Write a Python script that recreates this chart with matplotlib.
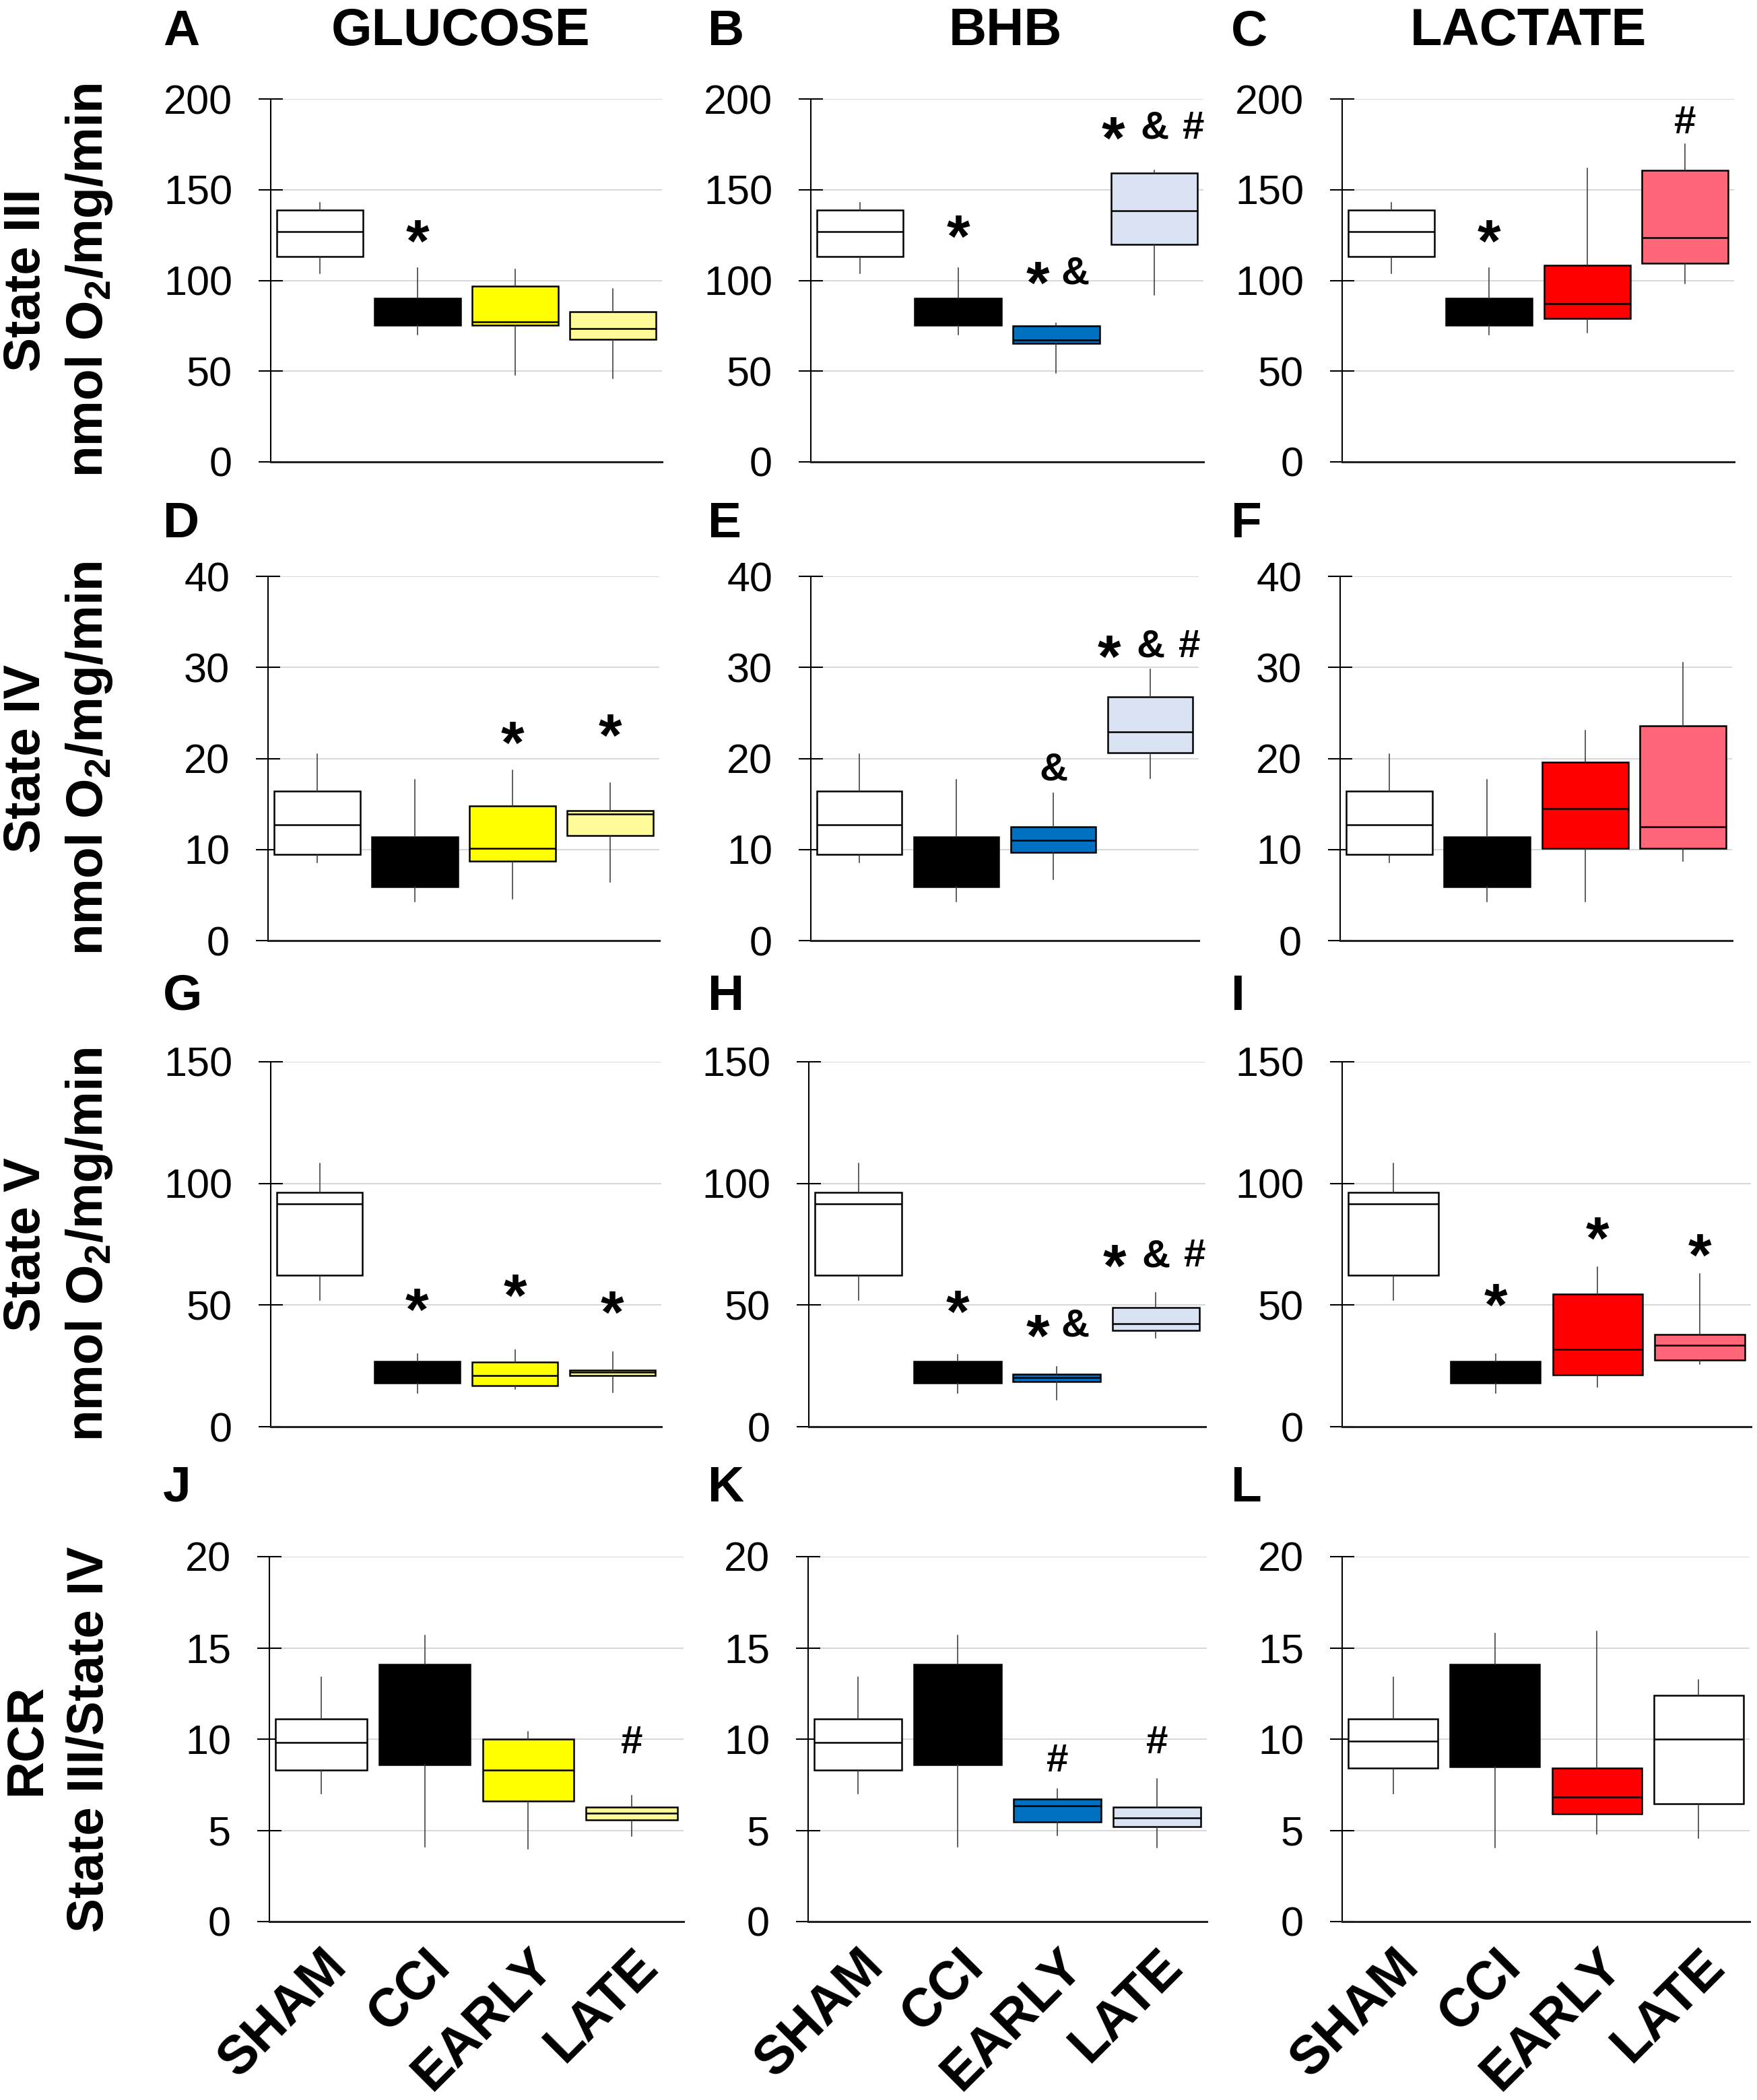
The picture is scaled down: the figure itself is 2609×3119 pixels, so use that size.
import matplotlib
matplotlib.use('Agg')
import matplotlib.pyplot as plt

plt.rcParams['font.family'] = ['Liberation Sans', 'DejaVu Sans']
plt.rcParams['mathtext.fontset'] = 'custom'
plt.rcParams['mathtext.rm'] = 'Liberation Sans:bold'
plt.rcParams['mathtext.bf'] = 'Liberation Sans:bold'

# ---------------- data ----------------
groups = ['SHAM', 'CCI', 'EARLY', 'LATE']
substrates = ['GLUCOSE', 'BHB', 'LACTATE']
panel_letters = [['A', 'B', 'C'], ['D', 'E', 'F'], ['G', 'H', 'I'], ['J', 'K', 'L']]
row_label_top = ['State III', 'State IV', 'State V', 'RCR']
row_label_bottom = [r'nmol O$_2$/mg/min', r'nmol O$_2$/mg/min', r'nmol O$_2$/mg/min',
                    'State III/State IV']
row_ymax = [200, 40, 150, 20]
row_ticks = [[0, 50, 100, 150, 200], [0, 10, 20, 30, 40], [0, 50, 100, 150], [0, 5, 10, 15, 20]]

# box stats per group: (whisker low, Q1, median, Q3, whisker high)
state3_glucose = [[104, 113, 127, 138.7, 143], [70, 75.4, 80, 90, 106.7],
                  [48, 75.4, 77, 96.7, 106], [46, 67.6, 73.5, 82.6, 95.3]]
state3_bhb = [[104, 113, 127, 138.7, 143], [70, 75.4, 80, 90, 106.7],
              [49, 65.2, 67, 74.9, 76.6], [91.9, 120, 138.4, 159.1, 160.5]]
state3_lactate = [[104, 113, 127, 138.7, 143], [70, 75.4, 80, 90, 106.7],
                  [71.1, 79.1, 87.3, 108.4, 161.7], [98.2, 109.3, 123.4, 160.7, 175.3]]

state4_glucose = [[8.6, 9.5, 12.7, 16.4, 20.5], [4.3, 5.9, 8, 11.4, 17.7],
                  [4.6, 8.7, 10.1, 14.8, 18.7], [6.4, 11.5, 13.9, 14.3, 17.3]]
state4_bhb = [[8.6, 9.5, 12.7, 16.4, 20.5], [4.3, 5.9, 8, 11.4, 17.7],
              [6.7, 9.7, 11.0, 12.5, 16.2], [17.8, 20.6, 22.9, 26.8, 29.8]]
state4_lactate = [[8.6, 9.5, 12.7, 16.4, 20.5], [4.3, 5.9, 8, 11.4, 17.7],
                  [4.3, 10.1, 14.5, 19.6, 23.1], [8.75, 10.1, 12.5, 23.6, 30.5]]

state5_glucose = [[51.9, 62.3, 91.7, 96.2, 108.1], [13.7, 17.9, 22, 26.8, 30.0],
                  [15.6, 16.9, 21.0, 26.7, 31.6], [14, 21.1, 22.3, 23.3, 30.7]]
state5_bhb = [[51.9, 62.3, 91.7, 96.2, 108.1], [13.7, 17.9, 22, 26.8, 29.6],
              [11.2, 18.6, 20.1, 21.6, 24.6], [36.4, 39.6, 42.4, 49.1, 55.1]]
state5_lactate = [[51.9, 62.3, 91.7, 96.2, 108.1], [13.7, 17.9, 22, 26.8, 29.9],
                  [16.3, 21.4, 31.8, 54.5, 65.5], [25.8, 27.4, 33.5, 37.9, 62.7]]

rcr_glucose = [[7.0, 8.3, 9.8, 11.1, 13.4], [4.1, 8.6, 11, 14.1, 15.7],
               [4.0, 6.6, 8.3, 10.0, 10.4], [4.67, 5.57, 5.93, 6.27, 6.9]]
rcr_bhb = [[7.0, 8.3, 9.8, 11.1, 13.4], [4.1, 8.6, 11, 14.1, 15.7],
           [4.74, 5.46, 6.36, 6.72, 7.26], [4.06, 5.19, 5.70, 6.27, 7.82]]
rcr_lactate = [[7.0, 8.4, 9.9, 11.1, 13.4], [4.07, 8.5, 11, 14.1, 15.8],
               [4.8, 5.9, 6.84, 8.4, 15.9], [4.56, 6.47, 10.0, 12.4, 13.24]]

panel_data = [[state3_glucose, state3_bhb, state3_lactate],
              [state4_glucose, state4_bhb, state4_lactate],
              [state5_glucose, state5_bhb, state5_lactate],
              [rcr_glucose, rcr_bhb, rcr_lactate]]

colors_glucose = ['#FFFFFF', '#000000', '#FFFF00', '#FFFB99']
colors_bhb = ['#FFFFFF', '#000000', '#0070C0', '#DAE3F3']
colors_lactate = ['#FFFFFF', '#000000', '#FF0000', '#FF6677']
colors_rcr_lactate = ['#FFFFFF', '#000000', '#FF0000', '#FFFFFF']

# significance marks: (row, col, group index, symbols, y of glyph centre)
annotations = [
    (0, 0, 1, '*', 129),
    (0, 1, 1, '*', 131.6), (0, 1, 2, '* &', 106), (0, 1, 3, '* & #', 186),
    (0, 2, 1, '*', 129), (0, 2, 3, '#', 189),
    (1, 0, 2, '*', 23.2), (1, 0, 3, '*', 24),
    (1, 1, 2, '&', 19.2), (1, 1, 3, '* & #', 32.7),
    (2, 0, 1, '*', 53.8), (2, 0, 2, '*', 59.5), (2, 0, 3, '*', 52.6),
    (2, 1, 1, '*', 52.9), (2, 1, 2, '* &', 43), (2, 1, 3, '* & #', 71.6),
    (2, 2, 1, '*', 55.7), (2, 2, 2, '*', 83), (2, 2, 3, '*', 76),
    (3, 0, 3, '#', 10.0),
    (3, 1, 2, '#', 9.0), (3, 1, 3, '#', 10.0),
]

# ---------------- layout ----------------
W, H = 2609, 3119
fig = plt.figure(figsize=(W / 100, H / 100), dpi=100)

axes_x = [
    [(402, 983), (1204, 1787), (1993, 2575)],
    [(398, 979), (1204, 1780), (1990, 2572)],
    [(402, 982), (1201, 1790), (1993, 2600)],
    [(400, 1015), (1200, 1792), (1993, 2598)],
]
axes_y = [(147, 686), (856, 1397), (1577, 2119), (2312, 2854)]
letter_x = [242, 1051, 1828]
letter_base = [67, 798, 1500, 2230]
title_cx = [684, 1493, 2269]

axes = [[None] * 3 for _ in range(4)]
for r in range(4):
    for c in range(3):
        x0, x1 = axes_x[r][c]
        y0, y1 = axes_y[r]
        ax = fig.add_axes([x0 / W, 1 - y1 / H, (x1 - x0) / W, (y1 - y0) / H])
        axes[r][c] = ax
        data = panel_data[r][c]
        if r == 3 and c == 2:
            cols = colors_rcr_lactate
        else:
            cols = [colors_glucose, colors_bhb, colors_lactate][c]
        stats = [dict(whislo=s[0], q1=s[1], med=s[2], q3=s[3], whishi=s[4], fliers=[])
                 for s in data]
        bp = ax.bxp(stats, positions=[1, 2, 3, 4], widths=0.88, patch_artist=True,
                    showcaps=False, showfliers=False,
                    boxprops=dict(linewidth=1.8, edgecolor='black'),
                    medianprops=dict(color='black', linewidth=1.8),
                    whiskerprops=dict(color='#333333', linewidth=1.1))
        for patch, col in zip(bp['boxes'], cols):
            patch.set_facecolor(col)
        ax.set_xlim(0.5, 4.5)
        ax.set_ylim(0, row_ymax[r])
        ax.set_yticks(row_ticks[r])
        ax.set_axisbelow(True)
        ax.yaxis.grid(True, color='#D9D9D9', linewidth=1.5)
        for sp in ['top', 'right']:
            ax.spines[sp].set_visible(False)
        ax.spines['left'].set_linewidth(1.5)
        ax.spines['bottom'].set_linewidth(2.2)
        ax.spines['bottom'].set_color('#222222')
        ax.tick_params(axis='y', direction='inout', length=26, width=1.5, pad=28,
                       labelsize=44)
        ax.tick_params(axis='x', length=0)
        ax.set_xticks([1, 2, 3, 4])
        if r == 3:
            ax.set_xticklabels(groups, rotation=45, ha='right', va='top',
                               rotation_mode='anchor', fontsize=57, fontweight='bold')
            ax.tick_params(axis='x', pad=20)
        else:
            ax.set_xticklabels([])
        ax.patch.set_alpha(0)

        fig.text(letter_x[c] / W, 1 - letter_base[r] / H, panel_letters[r][c],
                 fontsize=54, fontweight='bold', ha='left', va='baseline')

for c in range(3):
    fig.text(title_cx[c] / W, 1 - 67 / H, substrates[c], fontsize=56,
             fontweight='bold', ha='center', va='baseline')

for r in range(4):
    yc = (axes_y[r][0] + axes_y[r][1]) / 2
    fig.text(40 / W, 1 - yc / H, row_label_top[r], rotation=90, ha='center',
             va='center', fontsize=55, fontweight='bold')
    fig.text(133 / W, 1 - yc / H, row_label_bottom[r], rotation=90, ha='center',
             va='center', fontsize=55, fontweight='bold')

# significance symbols
offsets = {1: [0], 2: [-20, 20], 3: [-44, 0, 42]}
for r, c, g, sym, y in annotations:
    ax = axes[r][c]
    parts = sym.split()
    for part, dx in zip(parts, offsets[len(parts)]):
        if part == '*':
            fs, dy = 64, -0.56 * 64
        else:
            fs, dy = 42, -0.36 * 42
        ax.annotate(part, xy=(g + 1, y), xytext=(dx, dy), textcoords='offset points',
                    ha='center', va='baseline', fontsize=fs, fontweight='bold',
                    annotation_clip=False)

fig.savefig('out.png', dpi=100)
